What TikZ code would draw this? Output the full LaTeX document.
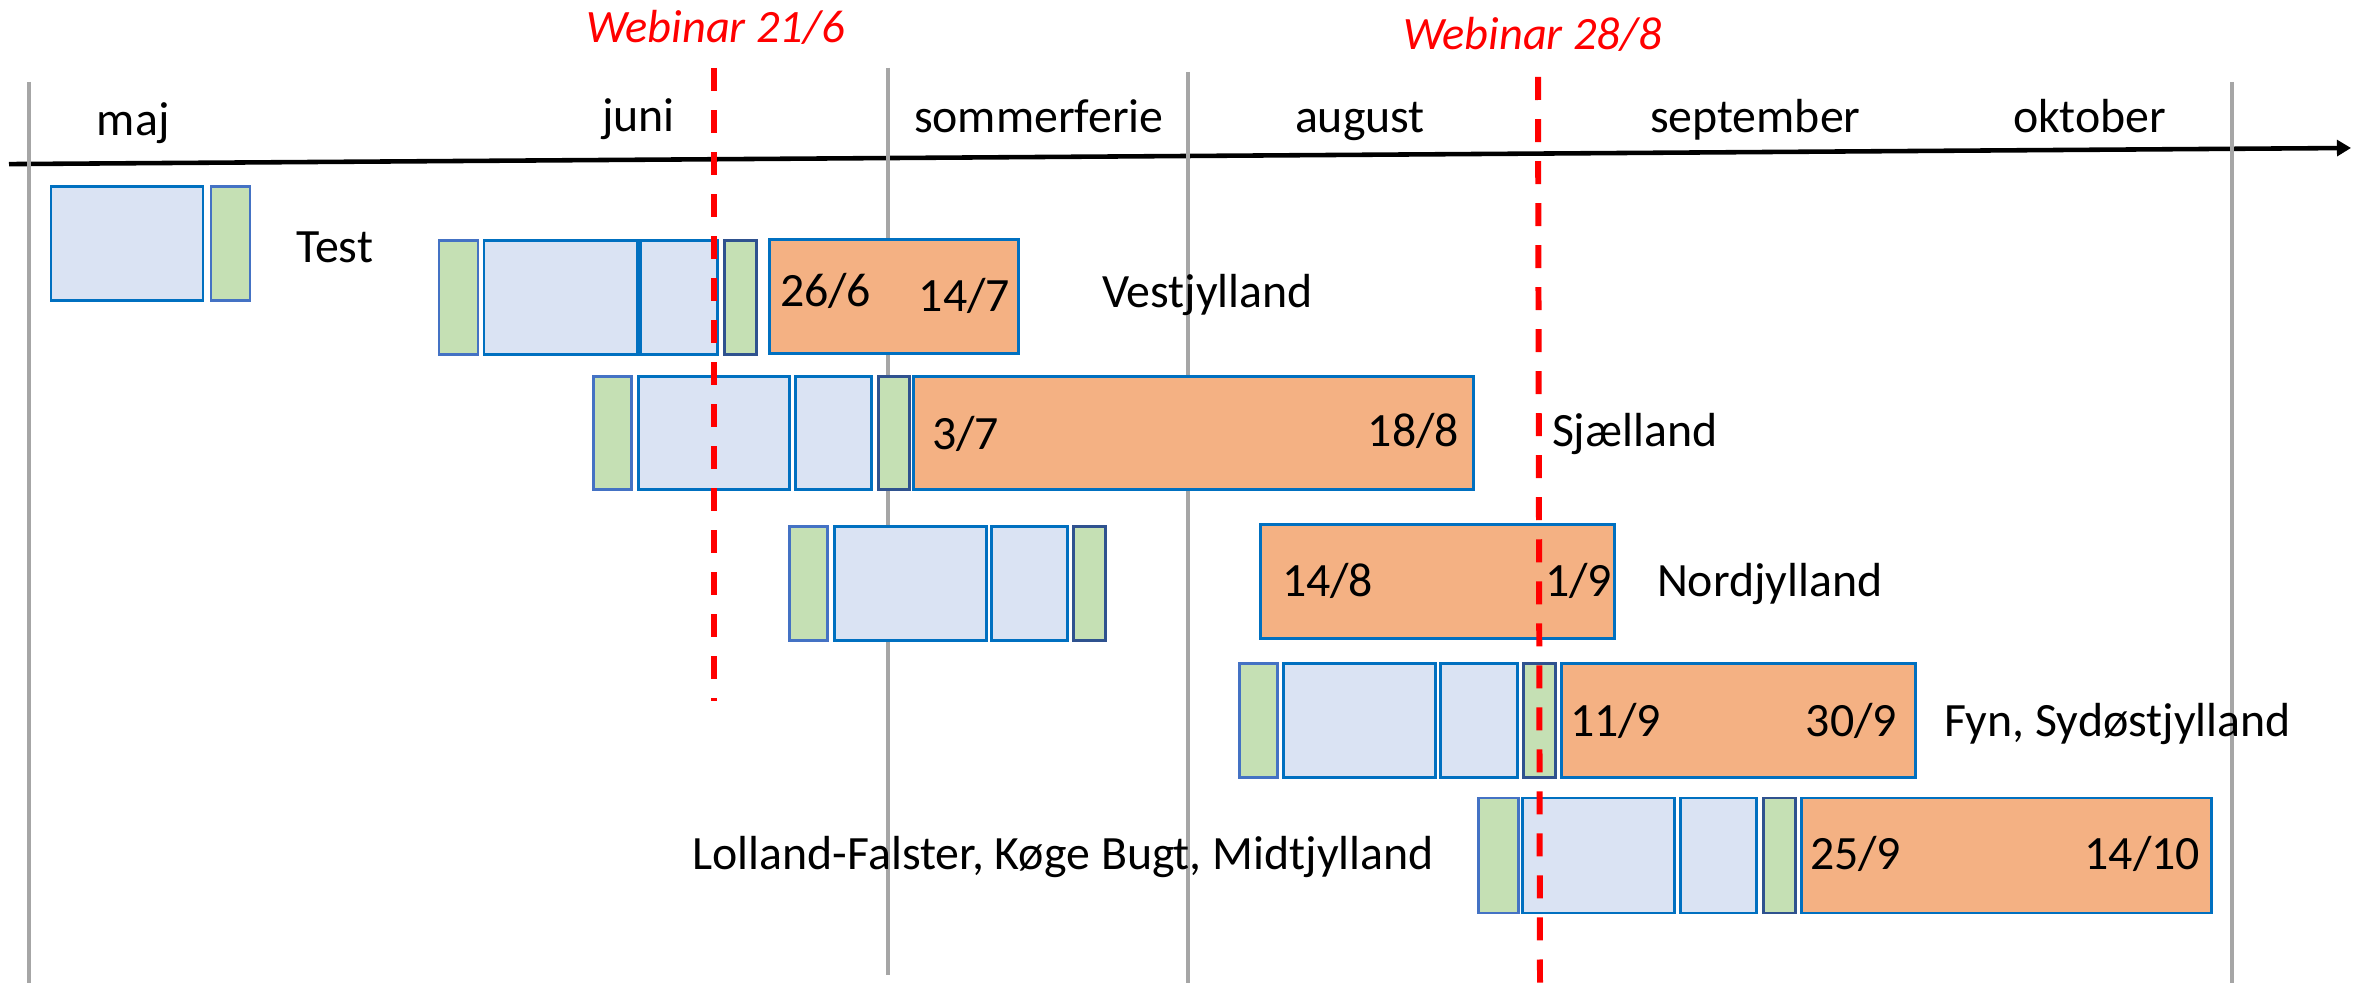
\documentclass[tikz,border=0pt]{standalone}
\usepackage{fontspec}
\setmainfont{Carlito}
\usetikzlibrary{arrows.meta}
\definecolor{bfill}{HTML}{DAE3F3}
\definecolor{bdraw}{HTML}{0070C0}
\definecolor{gfill}{HTML}{C5E0B4}
\definecolor{gdrawA}{HTML}{4472C4}
\definecolor{gdrawB}{HTML}{2F528F}
\definecolor{ofill}{HTML}{F4B183}
\definecolor{gline}{HTML}{A6A6A6}
\newcommand\gbox[6]{\node[#2, minimum width={(#5-#3)*0.01cm}, minimum height={(#6-#4)*0.01cm}] (#1) at ({(#3+#5)/2},{(#4+#6)/2}) {};}
\tikzset{
  box/.style={rectangle, inner sep=0pt, outer sep=0pt, line width=0.85pt},
  bluebox/.style={box, fill=bfill, draw=bdraw},
  greenA/.style={box, fill=gfill, draw=gdrawA},
  greenB/.style={box, fill=gfill, draw=gdrawB},
  orangebox/.style={box, fill=ofill, draw=bdraw},
  lbl/.style={inner sep=0pt, outer sep=0pt, font=\fontsize{13.6}{15}\selectfont},
  web/.style={inner sep=0pt, outer sep=0pt, text=red, font=\fontsize{13.2}{15}\selectfont\itshape},
  greyline/.style={draw=gline, line width=1.1pt},
  redline/.style={draw=red, line width=1.7pt, dash pattern=on 0.23cm off 0.19cm},
  axisline/.style={draw=black, line width=1.3pt, -{Triangle[length=4pt,width=4.5pt]}}
}
\begin{document}
\begin{tikzpicture}[x=0.01cm, y=-0.01cm]
\fill[white] (0,0) rectangle (2366,983);
\useasboundingbox (0,0) rectangle (2366,983);
% axis
\coordinate (ax0) at (9,164.1);
\coordinate (ax1) at (2351,148);
\draw[axisline] (ax0) -- (ax1);
% grey month separators
\coordinate (g1t) at (29,82);   \coordinate (g1b) at (29,983);
\coordinate (g2t) at (888,68);  \coordinate (g2b) at (888,975);
\coordinate (g3t) at (1188,72); \coordinate (g3b) at (1188,983);
\coordinate (g4t) at (2232,82); \coordinate (g4b) at (2232,983);
\draw[greyline] (g1t) -- (g1b);
\draw[greyline] (g2t) -- (g2b);
\draw[greyline] (g3t) -- (g3b);
\draw[greyline] (g4t) -- (g4b);
% month labels
\node[lbl, anchor=base west] (mmaj) at (97,136) {maj};
\node[lbl, anchor=base west] (mjuni) at (602,132) {juni};
\node[lbl, anchor=base west] (msom) at (914,133) {sommerferie};
\node[lbl, anchor=base west] (maug) at (1295,133) {august};
\node[lbl, anchor=base west] (msep) at (1650,133) {september};
\node[lbl, anchor=base west] (mokt) at (2013,133) {oktober};
% Test row
\gbox{t1}{bluebox}{51}{187}{203}{301}
\gbox{t2}{greenA}{211}{187}{250}{301}
\node[lbl, anchor=base west] (ltest) at (296,263) {Test};
% Row 1 Vestjylland
\gbox{a1}{greenA}{439}{241}{478}{355}
\gbox{a2}{bluebox}{484}{241}{637}{355}
\gbox{a3}{bluebox}{640}{241}{717}{355}
\gbox{a4}{greenB}{724}{241}{756}{355}
\gbox{a5}{orangebox}{769}{240}{1018}{354}
\node[lbl, anchor=base west] (a5s) at (780,307) {26/6};
\node[lbl, anchor=base east] (a5e) at (1010,312) {14/7};
\node[lbl, anchor=base west] (la) at (1102,308) {Vestjylland};
% Row 2 Sjaelland
\gbox{b1}{greenA}{593}{377}{631}{490}
\gbox{b2}{bluebox}{638}{377}{789}{490}
\gbox{b3}{bluebox}{795}{377}{871}{490}
\gbox{b4}{greenB}{878}{377}{909}{490}
\gbox{b5}{orangebox}{913}{377}{1473}{490}
\node[lbl, anchor=base west] (b5s) at (932,450) {3/7};
\node[lbl, anchor=base east] (b5e) at (1459,447) {18/8};
\node[lbl, anchor=base west] (lb) at (1552,447) {Sjælland};
% Row 3 Nordjylland
\gbox{c1}{greenA}{789}{527}{827}{641}
\gbox{c2}{bluebox}{834}{527}{986}{641}
\gbox{c3}{bluebox}{991}{527}{1067}{641}
\gbox{c4}{greenB}{1073}{527}{1105}{641}
\gbox{c5}{orangebox}{1260}{525}{1614}{639}
\node[lbl, anchor=base west] (c5s) at (1282,597) {14/8};
\node[lbl, anchor=base east] (c5e) at (1612,597) {1/9};
\node[lbl, anchor=base west] (lc) at (1657,597) {Nordjylland};
% Row 4 Fyn
\gbox{d1}{greenA}{1239}{664}{1277}{778}
\gbox{d2}{bluebox}{1283}{664}{1435}{778}
\gbox{d3}{bluebox}{1440}{664}{1517}{778}
\gbox{d4}{greenB}{1523}{664}{1555}{778}
\gbox{d5}{orangebox}{1561}{664}{1915}{778}
\node[lbl, anchor=base west] (d5s) at (1570,737) {11/9};
\node[lbl, anchor=base east] (d5e) at (1897,737) {30/9};
\node[lbl, anchor=base west] (ld) at (1944,737) {Fyn, Sydøstjylland};
% Row 5 Lolland-Falster
\gbox{e1}{greenA}{1478}{798}{1518}{913}
\gbox{e2}{bluebox}{1522}{798}{1674}{913}
\gbox{e3}{bluebox}{1680}{798}{1756}{913}
\gbox{e4}{greenB}{1763}{798}{1795}{913}
\gbox{e5}{orangebox}{1801}{798}{2211}{913}
\node[lbl, anchor=base west] (e5s) at (1810,870) {25/9};
\node[lbl, anchor=base east] (e5e) at (2200,870) {14/10};
\node[lbl, anchor=base east] (le) at (1434,870) {Lolland-Falster, Køge Bugt, Midtjylland};
% webinars
\coordinate (w1t) at (714,68);  \coordinate (w1b) at (714,701);
\coordinate (w2t) at (1538,77); \coordinate (w2b) at (1540,983);
\draw[redline] (w1t) -- (w1b);
\draw[redline] (w2t) -- (w2b);
\node[web, anchor=base west] (web1) at (586,43) {Webinar 21/6};
\node[web, anchor=base west] (web2) at (1403,50) {Webinar 28/8};
\end{tikzpicture}
\end{document}
